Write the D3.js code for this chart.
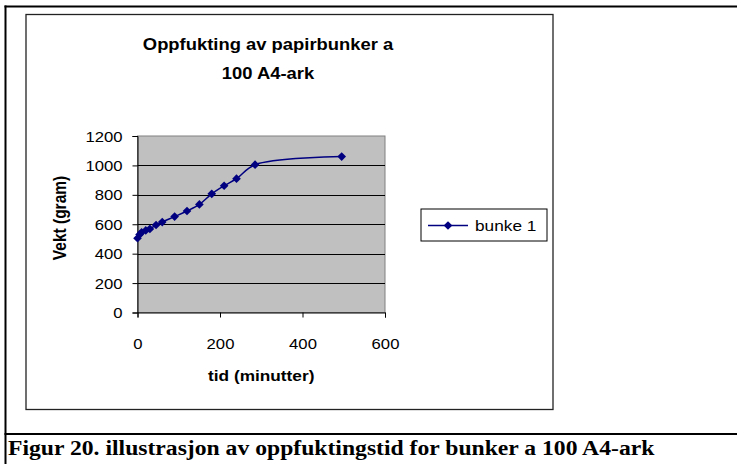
<!DOCTYPE html>
<html>
<head>
<meta charset="utf-8">
<script src="https://cdn.jsdelivr.net/npm/d3@7"></script>
<style>
  html, body { margin: 0; padding: 0; background: #fff; }
  svg { display: block; }
</style>
</head>
<body>
<svg id="chart" width="737" height="464"></svg>
<script>
// Measured weight of a stack of 100 A4 sheets while it takes up moisture
const times   = [0, 5, 10, 20, 30, 45, 60, 90, 120, 150, 180, 210, 240, 285, 495]; // minutes
const weights = [505, 530, 545, 558, 568, 595, 615, 652, 690, 735, 807, 862, 910, 1005, 1060]; // grams
const seriesName = "bunke 1";
const xTicks = [0, 200, 400, 600];
const yTicks = [0, 200, 400, 600, 800, 1000, 1200];
const titleLines = ["Oppfukting av papirbunker a", "100 A4-ark"];
const xTitle = "tid (minutter)";
const yTitle = "Vekt (gram)";
const caption = "Figur 20. illustrasjon av oppfuktingstid for bunker a 100 A4-ark";

const svg = d3.select("#chart");
const navy = "#000080";
const sans = "Arial, 'Liberation Sans', sans-serif";
const serif = "'Times New Roman', 'Liberation Serif', serif";
const SX = 1.15; // the embedded figure is drawn slightly wider than tall

// text helper: places a string at (x, y) and widens it horizontally around its anchor
function label(parent, str, x, y, opts) {
  const o = Object.assign({ size: 14, weight: "normal", anchor: "start", family: sans, sx: SX }, opts);
  return parent.append("text")
    .attr("transform", `translate(${x},${y}) scale(${o.sx},1)`)
    .attr("font-family", o.family).attr("font-size", o.size)
    .attr("font-weight", o.weight).attr("text-anchor", o.anchor)
    .attr("fill", "#000").text(str);
}

// Page frame around the figure and its caption
svg.append("line").attr("x1", 5.5).attr("x2", 5.5).attr("y1", 5.5).attr("y2", 464)
  .attr("stroke", "#000").attr("stroke-width", 2);
svg.append("line").attr("x1", 4.5).attr("x2", 737).attr("y1", 6.5).attr("y2", 6.5)
  .attr("stroke", "#000").attr("stroke-width", 2);
svg.append("line").attr("x1", 4.5).attr("x2", 737).attr("y1", 434).attr("y2", 434)
  .attr("stroke", "#000").attr("stroke-width", 2);

// Chart area box
svg.append("rect").attr("x", 26).attr("y", 14.5).attr("width", 527).attr("height", 395)
  .attr("fill", "#fff").attr("stroke", "#222").attr("stroke-width", 1.3);

// Plot area
const plot = { left: 137.5, right: 385, top: 136, bottom: 312.5 };
const x = d3.scaleLinear().domain([0, 600]).range([plot.left, plot.right]);
const y = d3.scaleLinear().domain([0, 1200]).range([plot.bottom, plot.top]);

svg.append("rect").attr("x", plot.left).attr("y", plot.top)
  .attr("width", plot.right - plot.left).attr("height", plot.bottom - plot.top)
  .attr("fill", "#c0c0c0").attr("stroke", "#808080").attr("stroke-width", 1);

// Horizontal gridlines
svg.append("g").selectAll("line").data(yTicks.filter(v => v > 0 && v < 1200)).join("line")
  .attr("x1", plot.left).attr("x2", plot.right)
  .attr("y1", d => Math.round(y(d)) + 0.5).attr("y2", d => Math.round(y(d)) + 0.5)
  .attr("stroke", "#000").attr("stroke-width", 1);

// Axes
const fmt = d3.format("d");
const yAxis = svg.append("g").attr("transform", `translate(${plot.left},0)`)
  .call(d3.axisLeft(y).tickValues(yTicks).tickFormat(fmt).tickSize(5));
const xAxis = svg.append("g").attr("transform", `translate(0,${plot.bottom})`)
  .call(d3.axisBottom(x).tickValues(xTicks).tickFormat(fmt).tickSize(5));
[yAxis, xAxis].forEach(g => {
  g.selectAll("path, line").attr("stroke", "#000").attr("stroke-width", 1);
  g.selectAll("text").attr("font-family", sans).attr("font-size", 14.5).attr("fill", "#000");
});
yAxis.selectAll("text").attr("x", 0).attr("dy", "0.35em")
  .attr("transform", `translate(-15,0) scale(${SX},1)`);
xAxis.selectAll("text").attr("y", 0).attr("dy", 0)
  .attr("transform", `translate(0,36) scale(${SX},1)`);

// Series: smoothed line with diamond markers
const line = d3.line()
  .x((d, i) => x(times[i])).y((d, i) => y(weights[i]))
  .curve(d3.curveCatmullRom.alpha(0.5));
svg.append("path").datum(weights).attr("d", line)
  .attr("fill", "none").attr("stroke", navy).attr("stroke-width", 1.5);

const diamond = d3.symbol().type(d3.symbolDiamond2).size(48);
svg.append("g").selectAll("path").data(weights).join("path")
  .attr("d", diamond)
  .attr("transform", (d, i) => `translate(${x(times[i])},${y(d)})`)
  .attr("fill", navy);

// Titles
titleLines.forEach((t, i) =>
  label(svg, t, 268, 50 + i * 29, { size: 16, weight: "bold", anchor: "middle" }));

label(svg, xTitle, (plot.left + plot.right) / 2, 381,
  { size: 15, weight: "bold", anchor: "middle" });

svg.append("text")
  .attr("transform", `translate(66,218) rotate(-90) scale(1,${SX})`)
  .attr("font-family", sans).attr("font-size", 15.5).attr("font-weight", "bold")
  .attr("text-anchor", "middle").text(yTitle);

// Legend
const lg = svg.append("g").attr("transform", "translate(421,209)");
lg.append("rect").attr("width", 126).attr("height", 32)
  .attr("fill", "#fff").attr("stroke", "#000").attr("stroke-width", 1);
lg.append("line").attr("x1", 7).attr("x2", 47).attr("y1", 16.5).attr("y2", 16.5)
  .attr("stroke", navy).attr("stroke-width", 1.5);
lg.append("path").attr("d", diamond).attr("transform", "translate(27,16.5)")
  .attr("fill", navy);
label(lg, seriesName, 54, 22, { size: 15 });

// Caption
label(svg, caption, 8, 455, { size: 21.5, weight: "bold", family: serif, sx: 1.1 });
</script>
</body>
</html>
